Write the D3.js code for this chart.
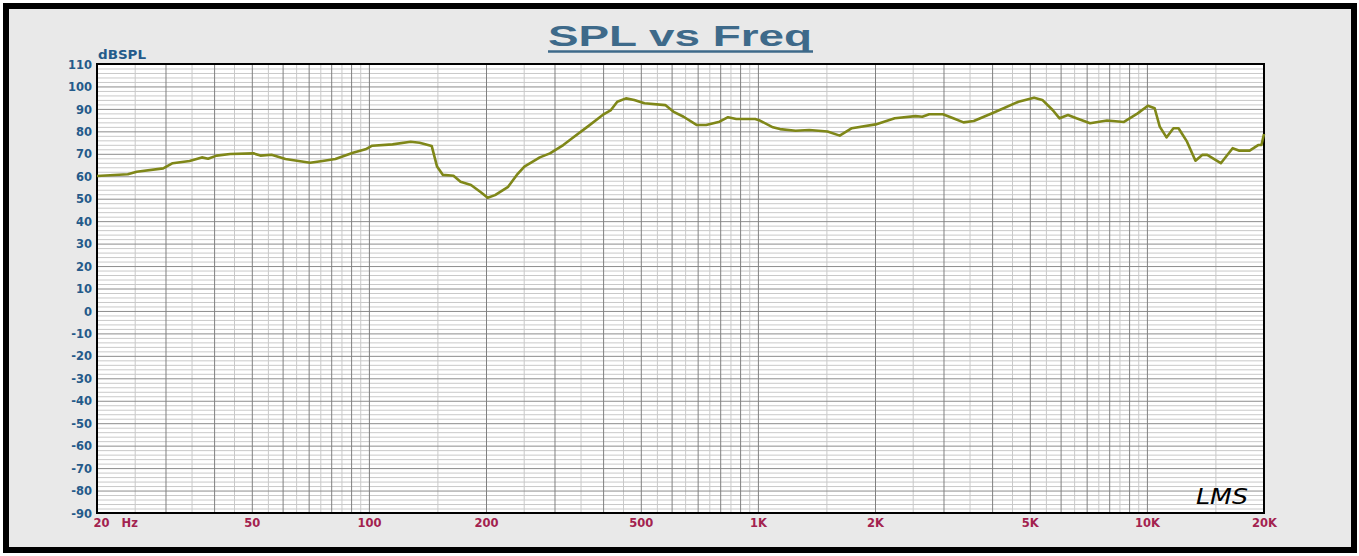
<!DOCTYPE html>
<html>
<head>
<meta charset="utf-8">
<script src="https://cdnjs.cloudflare.com/ajax/libs/d3/7.8.5/d3.min.js"></script>
<style>
  html, body { margin: 0; padding: 0; background: #fff; }
  svg { display: block; }
  .lbl { font-family: "DejaVu Sans", Verdana, sans-serif; font-weight: bold; font-size: 11.5px; }
</style>
</head>
<body>
<div id="chart"></div>
<script>
const freq = [
  20, 24, 25.3, 29.6, 31.3, 34.6, 37.2, 38.6, 40.6, 44,
  50.5, 52.6, 56.2, 61, 70.6, 76, 82, 91, 98, 102,
  115, 128, 135, 145, 149.7, 155, 165, 172, 183, 194,
  202, 211, 228, 240, 251, 275, 292, 316, 333, 365,
  399, 419, 435, 458, 481, 511, 578, 606, 644, 697,
  736, 797, 838, 880, 984, 1012, 1093, 1140, 1250, 1355,
  1510, 1623, 1744, 2008, 2248, 2541, 2646, 2757, 2990, 3178,
  3378, 3589, 4057, 4677, 5128, 5385, 5724, 5962, 6268, 6589,
  7144, 7896, 8730, 9469, 10058, 10470, 10790, 11230, 11700, 12060,
  12680, 13330, 13870, 14290, 15490, 16610, 17290, 18370, 19320, 19700,
  20000
];
const spl = [
  60.1, 60.9, 62, 63.5, 65.8, 66.8, 68.4, 67.8, 69.2, 69.9,
  70.2, 69.2, 69.6, 67.7, 66, 66.8, 67.7, 70.5, 72, 73.6,
  74.2, 75.4, 74.9, 73.5, 64.3, 60.6, 60.2, 57.6, 56.1, 52.9,
  50.4, 51.6, 55.3, 60.6, 64.3, 68.4, 70.2, 73.9, 76.9, 82.1,
  87.3, 89.5, 93.2, 94.7, 94, 92.5, 91.7, 88.8, 86.5, 82.8,
  82.8, 84.3, 86.3, 85.5, 85.5, 84.8, 81.8, 81, 80.3, 80.6,
  79.9, 78.1, 81.4, 83.1, 85.8, 86.8, 86.5, 87.6, 87.6, 85.8,
  84, 84.6, 88.5, 93.2, 95, 94, 89.5, 85.8, 87.3, 85.8,
  83.6, 84.8, 84.2, 88, 91.4, 90.3, 82.1, 77.3, 81.4, 81.4,
  75.4, 66.9, 69.5, 69.5, 65.8, 72.5, 71.4, 71.4, 73.9, 73.9,
  78.8
];

const xTickValues = [20, 50, 100, 200, 500, 1000, 2000, 5000, 10000, 20000];
const xTickLabels = ["20\u00a0\u00a0\u00a0Hz", "50", "100", "200", "500", "1K", "2K", "5K", "10K", "20K"];
const yTickValues = [-90, -80, -70, -60, -50, -40, -30, -20, -10, 0, 10, 20, 30, 40, 50, 60, 70, 80, 90, 100, 110];

const W = 1359, H = 556;
const plot = { left: 97, top: 64, right: 1264, bottom: 513 };

const x = d3.scaleLog().domain([20, 20000]).range([plot.left, plot.right]);
const y = d3.scaleLinear().domain([-90, 110]).range([plot.bottom, plot.top]);

// grid positions
const majorF = [], minorF = [];
[10, 100, 1000, 10000].forEach(d => {
  for (let n = 1; n <= 9; n++) {
    if (n * d > 20 && n * d < 20000) majorF.push(n * d);
    const h = (n + 0.5) * d;
    if (h > 20 && h < 20000) minorF.push(h);
  }
});
const minorDb = d3.range(-88, 110, 2).filter(v => v % 10 !== 0);
const majorDb = yTickValues.slice(1, -1);

const svg = d3.select("#chart").append("svg")
  .attr("width", W).attr("height", H);

// panel background + heavy frame
svg.append("rect").attr("x", 0).attr("y", 0).attr("width", W).attr("height", H).attr("fill", "#fff");
svg.append("rect").attr("x", 6).attr("y", 6).attr("width", 1348).attr("height", 544)
  .attr("fill", "#e9e9e9").attr("stroke", "#000").attr("stroke-width", 6);

svg.append("rect")
  .attr("x", plot.left).attr("y", plot.top)
  .attr("width", plot.right - plot.left).attr("height", plot.bottom - plot.top)
  .attr("fill", "#fff");

const h = plot.bottom - plot.top, w = plot.right - plot.left;

function grid(g, axis) {
  g.call(axis);
  g.select(".domain").remove();
  return g;
}

grid(svg.append("g").attr("transform", `translate(0,${plot.bottom})`),
  d3.axisBottom(x).tickValues(minorF).tickSize(-h).tickFormat(""))
  .selectAll("line").attr("stroke", "#c9c9c9");
grid(svg.append("g").attr("transform", `translate(${plot.left},0)`),
  d3.axisLeft(y).tickValues(minorDb).tickSize(-w).tickFormat(""))
  .selectAll("line").attr("stroke", "#c9c9c9");
grid(svg.append("g").attr("transform", `translate(${plot.left},0)`),
  d3.axisLeft(y).tickValues(majorDb).tickSize(-w).tickFormat(""))
  .selectAll("line").attr("stroke", "#8c8c8c");
grid(svg.append("g").attr("transform", `translate(0,${plot.bottom})`),
  d3.axisBottom(x).tickValues(majorF).tickSize(-h).tickFormat(""))
  .selectAll("line").attr("stroke", "#808080");

// plot frame
svg.append("rect")
  .attr("x", plot.left).attr("y", plot.top)
  .attr("width", w).attr("height", h)
  .attr("fill", "none").attr("stroke", "#000").attr("stroke-width", 2);

// response curve
const line = d3.line().x((d, i) => x(freq[i])).y(d => y(d));
svg.append("path")
  .datum(spl)
  .attr("d", line)
  .attr("fill", "none")
  .attr("stroke", "#7f8718")
  .attr("stroke-width", 2.6)
  .attr("stroke-linejoin", "round");

// y axis labels
const yAx = svg.append("g").attr("transform", `translate(${plot.left},0)`)
  .call(d3.axisLeft(y).tickValues(yTickValues).tickSize(0).tickPadding(5)
    .tickFormat(d => String(d)));
yAx.select(".domain").remove();
yAx.selectAll("text").attr("class", "lbl").attr("fill", "#245a8a")
  .attr("font-family", null).attr("font-size", null).attr("dy", "0.36em");

// x axis labels
const xAx = svg.append("g").attr("transform", `translate(0,${plot.bottom})`)
  .call(d3.axisBottom(x).tickValues(xTickValues).tickSize(0).tickPadding(6)
    .tickFormat((d, i) => xTickLabels[i]));
xAx.select(".domain").remove();
xAx.selectAll("text").attr("class", "lbl").attr("fill", "#a3224f")
  .attr("font-family", null).attr("font-size", null);
xAx.selectAll("text").filter(d => d === 20).attr("text-anchor", "start").attr("dx", -4);

// unit label
svg.append("text").attr("class", "lbl")
  .attr("x", 98).attr("y", 59)
  .attr("textLength", 48).attr("lengthAdjust", "spacingAndGlyphs")
  .attr("fill", "#245a8a").text("dBSPL");

// title
svg.append("text")
  .attr("x", 548).attr("y", 46)
  .attr("font-family", "'Liberation Sans', Arial, sans-serif")
  .attr("font-weight", "bold").attr("font-size", 29)
  .attr("textLength", 264).attr("lengthAdjust", "spacingAndGlyphs")
  .attr("fill", "#3e6a8a").text("SPL vs Freq");
svg.append("line")
  .attr("x1", 548).attr("x2", 813).attr("y1", 51.5).attr("y2", 51.5)
  .attr("stroke", "#3e6a8a").attr("stroke-width", 2.5);

// LMS mark
svg.append("text")
  .attr("x", 1196).attr("y", 504)
  .attr("font-family", "'DejaVu Sans', sans-serif")
  .attr("font-style", "italic").attr("font-size", 22)
  .attr("textLength", 52).attr("lengthAdjust", "spacingAndGlyphs")
  .attr("fill", "#000").text("LMS");
</script>
</body>
</html>
